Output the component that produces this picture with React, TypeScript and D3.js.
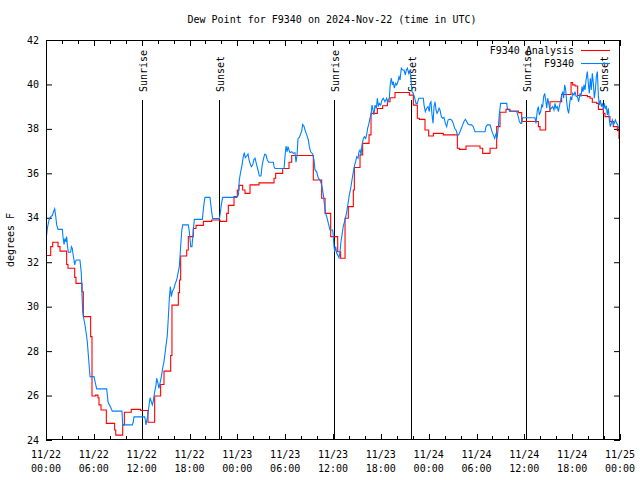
import React from 'react';
import * as d3 from 'd3';

const START = Date.UTC(2024, 10, 22, 0, 0);
const END_HOURS = 72;

const titleText = 'Dew Point for F9340 on 2024-Nov-22 (time in UTC)';
const yLabelText = 'degrees F';
const seriesNames = ['F9340 Analysis', 'F9340'];
const seriesColors = ['#ff0000', '#0080ff'];

const yTicks = [24, 26, 28, 30, 32, 34, 36, 38, 40, 42];

// Analysis (step) series: hours since start, dew point °F
const analysisHours = [0, 0.59, 0.84, 1.51, 1.76, 2.59, 2.76, 3.6, 3.76, 4.52, 4.68, 5.6, 5.77, 6.23, 6.52, 6.65, 6.9, 7.57, 8.61, 8.75, 9.62, 9.83, 10.7, 11.88, 12.79, 13.63, 14.38, 14.8, 15.64, 15.8, 16.6, 16.75, 16.89, 17.65, 17.85, 18.48, 18.82, 19.74, 20.78, 21.83, 22.66, 22.87, 23.58, 24.0, 24.21, 24.67, 24.96, 25.59, 26.72, 28.6, 28.81, 29.69, 30.48, 30.82, 33.53, 34.58, 35.0, 35.71, 36.59, 36.96, 37.51, 37.92, 38.55, 38.68, 39.39, 39.72, 40.52, 40.77, 41.56, 42.23, 42.82, 43.15, 43.78, 45.58, 46.08, 46.58, 46.83, 47.54, 48.0, 48.59, 49.84, 51.6, 51.85, 52.68, 54.44, 54.78, 55.7, 56.53, 56.95, 57.7, 58.2, 59.25, 59.67, 61.76, 61.97, 62.68, 63.22, 64.68, 65.86, 66.06, 66.36, 66.69, 67.9, 68.24, 68.53, 69.07, 69.29, 69.91, 70.12, 70.74, 71.16, 71.66, 71.87, 72];
const analysisValues = [32.3, 32.7, 32.9, 32.7, 32.5, 31.9, 31.73, 31.32, 31.05, 30.67, 29.55, 28.65, 25.98, 26.02, 25.9, 25.58, 25.35, 24.75, 24.45, 24.22, 24.68, 25.25, 25.38, 25.33, 24.8, 25.98, 26.5, 27.1, 27.8, 30.07, 30.63, 31.2, 32.28, 32.55, 33.15, 33.52, 33.66, 33.84, 33.9, 33.84, 34.2, 34.56, 34.95, 35.25, 35.46, 35.25, 35.1, 35.48, 35.57, 35.78, 36.0, 36.22, 36.5, 36.8, 35.7, 34.88, 34.2, 33.15, 32.47, 32.18, 33.98, 34.5, 35.25, 36.26, 36.83, 37.35, 37.73, 38.7, 38.92, 39.04, 39.22, 39.4, 39.64, 39.52, 39.07, 38.48, 38.43, 37.95, 37.68, 37.8, 37.73, 37.13, 37.08, 37.23, 37.13, 36.9, 37.13, 38.1, 38.75, 38.88, 38.8, 38.73, 38.33, 38.1, 37.95, 38.78, 39.22, 39.55, 40.08, 39.98, 39.93, 39.5, 39.45, 39.38, 39.2, 39.15, 38.88, 38.7, 38.55, 38.33, 38.1, 37.92, 37.57, 37.4];

// Station observations: hours since start, dew point °F
const obsHours = [0.08, 0.17, 0.38, 0.59, 0.79, 0.92, 1.09, 1.21, 1.34, 1.51, 2.05, 2.13, 2.26, 2.38, 2.51, 2.59, 2.68, 2.8, 3.09, 3.18, 3.3, 3.39, 3.51, 3.6, 3.68, 3.8, 4.26, 4.43, 4.52, 4.6, 4.77, 4.89, 5.02, 5.18, 5.31, 5.44, 5.52, 6.02, 6.23, 6.36, 7.61, 7.78, 7.94, 8.11, 8.32, 9.53, 9.62, 10.83, 10.95, 11.04, 12.38, 12.46, 12.54, 12.71, 12.88, 13.05, 13.21, 13.34, 13.46, 13.63, 13.8, 13.88, 14.05, 14.17, 14.3, 14.47, 14.63, 14.8, 15.01, 15.22, 15.35, 15.47, 15.6, 15.72, 15.85, 16.06, 16.22, 16.39, 16.56, 16.72, 16.89, 17.02, 17.14, 17.85, 17.98, 18.15, 18.31, 18.48, 18.61, 19.61, 19.82, 19.94, 20.57, 20.78, 20.91, 21.74, 21.83, 21.99, 22.16, 23.92, 24.13, 24.25, 24.42, 24.59, 24.75, 24.88, 25.0, 25.17, 25.34, 25.46, 25.59, 25.76, 25.92, 26.09, 26.22, 26.43, 26.59, 26.76, 26.97, 27.09, 27.26, 27.43, 27.6, 27.76, 27.93, 28.52, 28.6, 28.73, 29.86, 29.98, 30.11, 30.23, 30.36, 30.48, 30.61, 30.82, 31.02, 31.23, 31.36, 31.49, 31.61, 31.78, 32.07, 32.2, 32.36, 32.49, 32.7, 32.91, 33.03, 33.2, 33.45, 33.62, 33.74, 33.95, 34.16, 34.37, 34.58, 34.79, 34.91, 35.08, 35.21, 35.42, 35.62, 35.96, 36.04, 36.13, 36.21, 36.34, 36.46, 36.59, 36.75, 36.88, 37.0, 37.13, 37.3, 37.51, 37.72, 37.92, 38.05, 38.22, 38.38, 38.55, 38.72, 38.84, 38.97, 39.14, 39.26, 39.39, 39.51, 39.64, 39.81, 39.93, 40.1, 40.22, 40.35, 40.47, 40.64, 40.77, 40.89, 41.02, 41.14, 41.27, 41.44, 41.56, 41.69, 41.81, 41.98, 42.15, 42.31, 42.52, 42.73, 42.86, 43.07, 43.19, 43.32, 43.44, 43.57, 43.69, 43.86, 43.99, 44.15, 44.28, 44.41, 44.57, 44.74, 44.91, 45.07, 45.2, 45.33, 45.5, 45.58, 45.74, 45.91, 46.08, 46.25, 46.41, 46.58, 46.75, 47.33, 47.42, 47.58, 47.75, 47.92, 48.08, 48.17, 48.29, 48.42, 48.55, 48.67, 48.8, 48.92, 49.05, 49.17, 49.3, 49.42, 49.59, 49.76, 49.92, 50.09, 50.26, 50.43, 50.59, 50.76, 50.93, 51.09, 51.26, 51.43, 51.6, 51.76, 51.93, 52.1, 52.27, 52.43, 52.6, 52.77, 52.93, 53.18, 53.39, 53.6, 53.81, 55.07, 55.19, 55.36, 55.7, 55.82, 55.95, 56.12, 56.28, 56.45, 56.57, 56.74, 56.87, 57.03, 57.79, 57.87, 58.04, 58.2, 59.04, 59.12, 59.29, 59.37, 59.54, 59.67, 59.79, 61.34, 61.46, 61.63, 61.76, 61.88, 62.05, 62.18, 62.3, 62.43, 62.55, 62.68, 62.81, 62.93, 63.06, 63.22, 63.39, 63.56, 63.72, 63.85, 63.97, 64.14, 64.27, 64.39, 64.56, 64.68, 64.81, 64.93, 65.06, 65.19, 65.31, 65.44, 65.56, 65.69, 65.81, 65.94, 66.06, 66.23, 66.36, 66.48, 66.65, 66.82, 66.98, 67.11, 67.24, 67.36, 67.49, 67.61, 67.74, 67.9, 68.03, 68.15, 68.28, 68.4, 68.53, 68.66, 68.78, 68.91, 69.03, 69.16, 69.29, 69.41, 69.54, 69.66, 69.79, 69.91, 70.04, 70.16, 70.29, 70.41, 70.54, 70.66, 70.79, 70.91, 71.04, 71.17, 71.29, 71.42, 71.58, 71.71, 71.83, 72];
const obsValues = [33.23, 33.52, 33.9, 34.05, 34.1, 34.25, 34.4, 34.1, 33.68, 33.48, 33.48, 33.15, 32.8, 33.07, 32.92, 33.15, 32.77, 32.45, 32.45, 32.7, 32.62, 32.36, 32.1, 31.88, 32.02, 32.1, 32.1, 31.5, 30.53, 29.77, 29.4, 29.17, 28.87, 28.42, 27.83, 27.23, 26.85, 26.85, 26.5, 26.3, 26.3, 25.72, 25.58, 25.47, 25.3, 25.3, 24.68, 24.68, 24.82, 25.04, 25.04, 24.9, 24.68, 25.0, 25.43, 25.9, 25.72, 25.58, 25.76, 26.17, 26.47, 26.78, 26.55, 26.32, 26.55, 26.85, 27.23, 27.53, 28.12, 28.73, 29.55, 30.37, 30.9, 30.45, 30.68, 30.83, 31.05, 31.2, 31.5, 31.8, 32.7, 33.38, 33.68, 33.68, 33.38, 32.7, 32.7, 33.45, 33.93, 33.93, 34.65, 34.92, 34.92, 34.27, 33.96, 33.96, 34.13, 34.58, 34.92, 34.92, 35.03, 35.7, 36.07, 36.37, 36.75, 36.93, 36.7, 36.78, 36.87, 36.63, 36.45, 36.3, 36.37, 36.63, 36.68, 36.37, 36.15, 35.88, 35.88, 36.3, 36.63, 36.86, 36.83, 36.6, 36.5, 36.5, 36.3, 36.22, 36.22, 36.75, 37.23, 36.97, 37.2, 37.05, 36.93, 36.97, 36.9, 36.93, 36.5, 36.8, 37.57, 37.62, 37.9, 38.2, 38.12, 37.95, 37.73, 37.5, 37.2, 36.97, 36.87, 36.6, 36.15, 36.07, 35.78, 35.7, 35.48, 35.03, 34.65, 34.2, 34.05, 33.75, 33.45, 33.45, 33.15, 32.7, 32.47, 32.7, 32.4, 32.33, 32.2, 32.47, 32.92, 33.22, 33.64, 33.9, 34.27, 34.72, 35.03, 35.33, 35.7, 36.07, 36.38, 36.53, 36.75, 36.68, 36.97, 37.05, 36.83, 37.28, 37.57, 37.65, 37.57, 37.73, 38.03, 38.18, 38.48, 38.63, 39.07, 38.85, 38.63, 39.07, 38.92, 39.38, 39.0, 39.15, 39.07, 39.3, 39.38, 39.22, 39.38, 39.22, 39.4, 40.05, 40.28, 39.98, 40.13, 39.83, 40.05, 39.98, 40.13, 40.35, 40.2, 40.73, 40.65, 40.65, 40.43, 40.65, 40.73, 40.5, 40.6, 40.43, 39.68, 39.6, 39.38, 39.15, 39.15, 39.38, 39.38, 39.07, 38.78, 38.93, 39.0, 38.78, 39.15, 39.22, 38.63, 38.25, 39.0, 39.22, 38.85, 38.7, 38.78, 38.93, 38.85, 38.55, 38.48, 38.52, 38.25, 38.1, 38.4, 38.43, 38.43, 38.37, 38.25, 38.03, 37.95, 37.73, 37.73, 37.87, 38.03, 38.18, 38.33, 38.43, 38.33, 38.22, 38.18, 38.18, 38.1, 37.87, 37.87, 38.1, 38.18, 38.18, 38.03, 37.87, 37.73, 37.57, 37.8, 37.57, 38.1, 38.7, 39.15, 39.15, 38.92, 38.85, 38.78, 38.78, 38.7, 38.48, 38.33, 38.25, 38.25, 38.5, 38.5, 38.25, 38.85, 39.0, 38.63, 38.78, 39.07, 39.0, 39.45, 39.6, 39.3, 38.93, 39.38, 39.15, 38.85, 38.93, 39.0, 38.85, 39.15, 38.93, 39.0, 38.78, 39.0, 39.3, 39.52, 39.68, 39.38, 39.98, 39.75, 39.22, 38.85, 38.7, 39.15, 39.45, 39.3, 39.6, 39.52, 39.68, 39.48, 39.45, 39.22, 39.6, 39.45, 39.9, 39.68, 39.98, 39.75, 40.2, 40.58, 40.05, 39.6, 40.28, 39.75, 40.5, 40.05, 39.38, 39.75, 40.35, 40.58, 39.45, 39.07, 39.3, 39.0, 39.15, 38.85, 39.15, 38.93, 39.0, 38.63, 38.93, 38.4, 38.1, 38.25, 38.4, 38.18, 38.25, 38.4, 38.25, 38.18, 38.03, 38.03];

const sunEventHours = [12.04, 21.7, 36.13, 45.79, 60.2, 69.87];
const sunEventLabels = ['Sunrise', 'Sunset', 'Sunrise', 'Sunset', 'Sunrise', 'Sunset'];

const W = 640;
const H = 480;
const M = { left: 46, right: 620, top: 40, bottom: 440 };
const FONT = '"DejaVu Sans Mono", "Liberation Mono", monospace';

const toDate = (h: number) => new Date(START + h * 3600 * 1000);

export default function App() {
  const x = d3.scaleUtc().domain([toDate(0), toDate(END_HOURS)]).range([M.left, M.right]);
  const y = d3.scaleLinear().domain([24, 42]).range([M.bottom, M.top]);

  const analysisPts: [Date, number][] = analysisHours.map((h, i) => [toDate(h), analysisValues[i]]);
  const obsPts: [Date, number][] = obsHours.map((h, i) => [toDate(h), obsValues[i]]);

  const stepLine = d3.line<[Date, number]>().x((d) => x(d[0])).y((d) => y(d[1])).curve(d3.curveStepAfter);
  const line = d3.line<[Date, number]>().x((d) => x(d[0])).y((d) => y(d[1]));

  const majorTicks = d3.utcHour.every(6)!.range(toDate(0), toDate(END_HOURS + 0.01));
  const minorTicks = d3.utcHour.every(2)!.range(toDate(0), toDate(END_HOURS + 0.01));
  const fmtDay = d3.utcFormat('%m/%d');
  const fmtTime = d3.utcFormat('%H:%M');

  const fs = 10;

  return (
    <svg width={W} height={H} style={{ position: 'absolute', left: 0, top: 0, background: '#fff' }} fontFamily={FONT} fontSize={fs}>
      <rect x={0} y={0} width={W} height={H} fill="#fff" />
      <defs>
        <clipPath id="plotclip">
          <rect x={M.left} y={M.top} width={M.right - M.left} height={M.bottom - M.top} />
        </clipPath>
      </defs>

      {/* title */}
      <text x={332} y={23} textAnchor="middle" fill="#000">{titleText}</text>

      {/* y label */}
      <text transform={`translate(14,240) rotate(-90)`} textAnchor="middle" fill="#000">{yLabelText}</text>

      {/* y ticks */}
      {yTicks.map((t) => (
        <g key={'y' + t}>
          <line x1={M.left} x2={M.left + 6} y1={y(t) + 0.5} y2={y(t) + 0.5} stroke="#000" />
          <line x1={M.right} x2={M.right - 6} y1={y(t) + 0.5} y2={y(t) + 0.5} stroke="#000" />
          <text x={39} y={y(t)} dy="0.35em" textAnchor="end" fill="#000">{t}</text>
        </g>
      ))}

      {/* x minor ticks */}
      {minorTicks.map((d, i) => (
        <g key={'mx' + i}>
          <line x1={Math.round(x(d)) + 0.5} x2={Math.round(x(d)) + 0.5} y1={M.bottom} y2={M.bottom - 4} stroke="#000" />
          <line x1={Math.round(x(d)) + 0.5} x2={Math.round(x(d)) + 0.5} y1={M.top} y2={M.top + 4} stroke="#000" />
        </g>
      ))}
      {/* x major ticks + labels */}
      {majorTicks.map((d, i) => (
        <g key={'x' + i}>
          <line x1={Math.round(x(d)) + 0.5} x2={Math.round(x(d)) + 0.5} y1={M.bottom} y2={M.bottom - 6} stroke="#000" />
          <line x1={Math.round(x(d)) + 0.5} x2={Math.round(x(d)) + 0.5} y1={M.top} y2={M.top + 6} stroke="#000" />
          <text x={x(d)} y={458} textAnchor="middle" fill="#000">{fmtDay(d)}</text>
          <text x={x(d)} y={472} textAnchor="middle" fill="#000">{fmtTime(d)}</text>
        </g>
      ))}

      {/* sunrise / sunset lines */}
      {sunEventHours.map((h, i) => {
        const xx = Math.round(x(toDate(h))) + 0.5;
        return (
          <g key={'sun' + i}>
            <line x1={xx} x2={xx} y1={100} y2={M.bottom} stroke="#000" strokeWidth={1} />
            <text transform={`translate(${xx + 4},92) rotate(-90)`} textAnchor="start" fill="#000">{sunEventLabels[i]}</text>
          </g>
        );
      })}

      {/* series */}
      <g clipPath="url(#plotclip)">
        <path d={stepLine(analysisPts) ?? ''} fill="none" stroke={seriesColors[0]} strokeWidth={1.1} />
        <path d={line(obsPts) ?? ''} fill="none" stroke={seriesColors[1]} strokeWidth={1.1} />
      </g>

      {/* frame */}
      <rect x={M.left + 0.5} y={M.top + 0.5} width={M.right - M.left - 1} height={M.bottom - M.top - 1} fill="none" stroke="#000" />

      {/* legend */}
      {seriesNames.map((n, i) => (
        <g key={'lg' + i}>
          <text x={574} y={50 + i * 13} dy="0.35em" textAnchor="end" fill="#000">{n}</text>
          <line x1={581} x2={610} y1={50.5 + i * 13} y2={50.5 + i * 13} stroke={seriesColors[i]} strokeWidth={1.1} />
        </g>
      ))}
    </svg>
  );
}
